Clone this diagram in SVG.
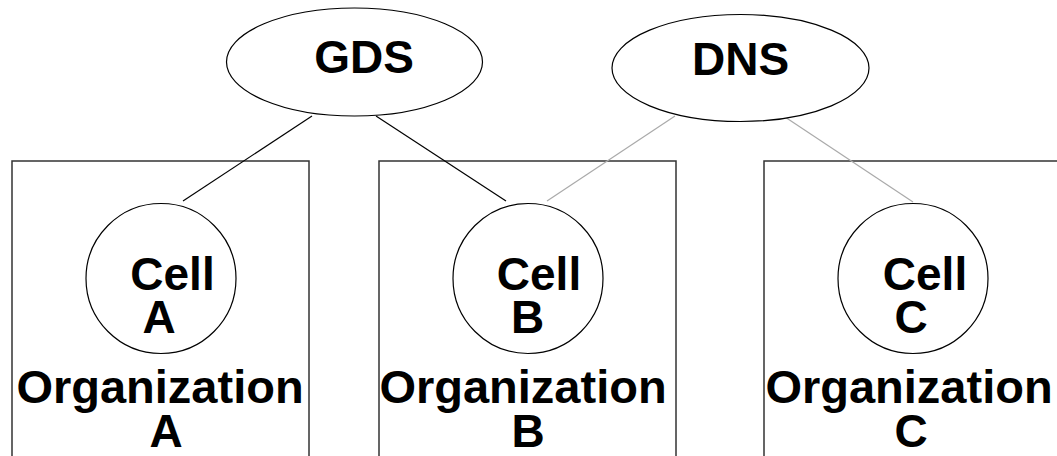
<svg xmlns="http://www.w3.org/2000/svg" width="1057" height="456" viewBox="0 0 1057 456">
<style>
.box{fill:none;stroke:#333;stroke-width:1.5}
.shape{fill:#fff;stroke:#000;stroke-width:1.2}
.t{font-family:"Liberation Sans",Arial,sans-serif;font-weight:bold;font-size:46px;fill:#000;text-anchor:middle}
.org{font-size:47px}
.c1{stroke:#000;stroke-width:1.2;fill:none}
.c2{stroke:#aaa;stroke-width:1.2;fill:none}
</style>
<rect width="1057" height="456" fill="#fff"/>
<g id="orgA">
<rect class="box" x="12" y="161" width="297" height="310"/>
<text class="t org" x="160" y="403">Organization</text>
<text class="t" x="166" y="447">A</text>
</g>
<g id="orgB">
<rect class="box" x="379" y="161" width="297" height="310"/>
<text class="t org" x="523" y="403">Organization</text>
<text class="t" x="528" y="447">B</text>
</g>
<g id="orgC">
<rect class="box" x="764" y="161" width="310" height="310"/>
<text class="t org" x="909" y="403">Organization</text>
<text class="t" x="911" y="447">C</text>
</g>
<g id="connectors">
<line class="c1" x1="312" y1="116" x2="183" y2="201"/>
<line class="c1" x1="376" y1="116" x2="506" y2="201"/>
<line class="c2" x1="675" y1="116" x2="547" y2="201"/>
<line class="c2" x1="782" y1="115" x2="913" y2="202"/>
</g>
<g id="gds">
<ellipse class="shape" cx="354.5" cy="62" rx="128" ry="54"/>
<text class="t" x="364" y="73">GDS</text>
</g>
<g id="dns">
<ellipse class="shape" cx="740.5" cy="68" rx="128.5" ry="53.5"/>
<text class="t" x="740.5" y="75">DNS</text>
</g>
<g id="cellA">
<circle class="shape" cx="161" cy="278.5" r="75"/>
<text class="t" x="172.5" y="290">Cell</text>
<text class="t" x="159" y="333">A</text>
</g>
<g id="cellB">
<circle class="shape" cx="528" cy="278.5" r="75"/>
<text class="t" x="539" y="290">Cell</text>
<text class="t" x="527.5" y="333">B</text>
</g>
<g id="cellC">
<circle class="shape" cx="913" cy="278.5" r="75"/>
<text class="t" x="925" y="290">Cell</text>
<text class="t" x="911" y="333">C</text>
</g>
</svg>
